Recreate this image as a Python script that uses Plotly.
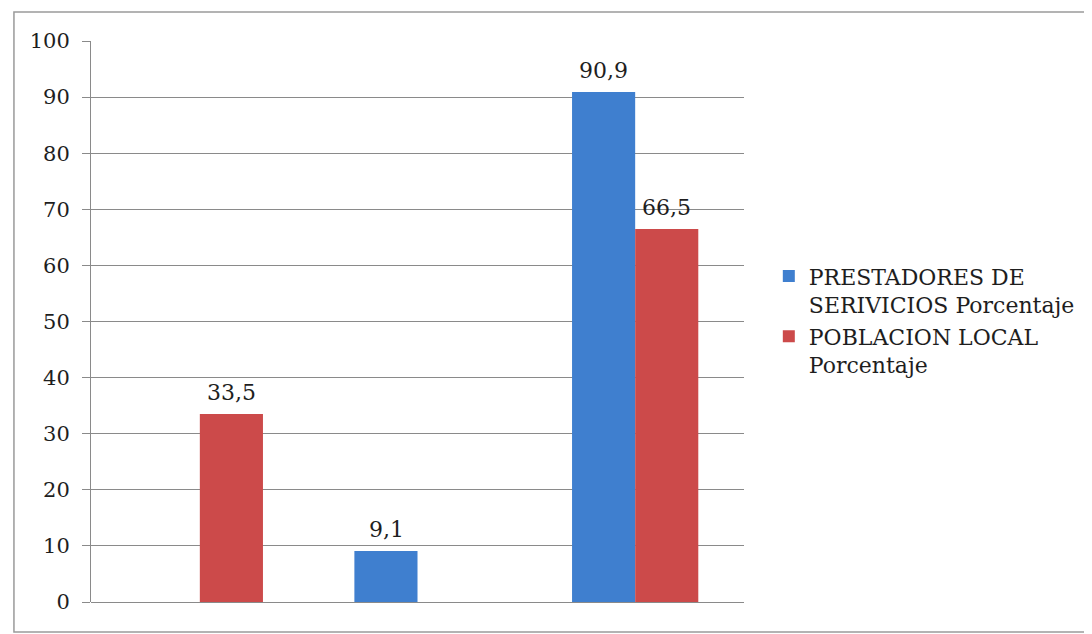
import plotly.graph_objects as go

categories = ["Grupo 1", "Grupo 2", "Grupo 3"]
prestadores = [None, 9.1, 90.9]
poblacion = [33.5, None, 66.5]
series_names = ["PRESTADORES DE<br>SERIVICIOS Porcentaje", "POBLACION LOCAL<br>Porcentaje"]
y_ticks = list(range(0, 101, 10))

blue = "#3F7FCF"
red = "#CC4A4A"
font_family = "DejaVu Serif"
text_color = "#1e1e1e"

fig = go.Figure()
fig.add_trace(go.Bar(
    x=categories, y=prestadores, name=series_names[0],
    marker=dict(color=blue, line=dict(width=0)), offsetgroup="a",
))
fig.add_trace(go.Bar(
    x=categories, y=poblacion, name=series_names[1],
    marker=dict(color=red, line=dict(width=0)), offsetgroup="b",
))

bar_half = 31.5
annotations = []
for vals, shift in ((prestadores, -bar_half), (poblacion, bar_half)):
    for cat, v in zip(categories, vals):
        if v is None:
            continue
        annotations.append(dict(
            x=cat, y=v, xref="x", yref="y", xshift=shift, yshift=7,
            text=f"{v:.1f}".replace(".", ","), showarrow=False,
            xanchor="center", yanchor="bottom",
            font=dict(family=font_family, size=22, color=text_color),
        ))

fig.update_layout(
    width=1084, height=626,
    separators=",.",
    barmode="group", bargap=0.42, bargroupgap=0,
    plot_bgcolor="white", paper_bgcolor="white",
    margin=dict(l=83, r=348, t=33, b=32),
    font=dict(family=font_family, size=22, color=text_color),
    showlegend=True,
    legend=dict(x=1.038, y=0.618, xanchor="left", yanchor="top",
                font=dict(family=font_family, size=22, color=text_color),
                tracegroupgap=9, itemwidth=30, valign="top",
                bgcolor="rgba(0,0,0,0)"),
    xaxis=dict(showticklabels=False, showgrid=False, ticks="",
               showline=False, zeroline=False),
    yaxis=dict(range=[0, 100], tickvals=y_ticks, showgrid=True,
               gridcolor="#8a8a8a", gridwidth=1, showline=True,
               linecolor="#8a8a8a", linewidth=1, ticks="outside",
               ticklen=8, tickcolor="#8a8a8a", zeroline=True,
               zerolinecolor="#8a8a8a", zerolinewidth=1,
               tickfont=dict(family=font_family, size=21, color=text_color),
               ticklabelstandoff=8),
    annotations=annotations,
    shapes=[dict(type="rect", xref="paper", yref="paper",
                 x0=-0.118, x1=1.528, y0=-0.0535, y1=1.0517,
                 line=dict(color="#9a9a9a", width=1.5))],
)

fig.write_html("out.html")
